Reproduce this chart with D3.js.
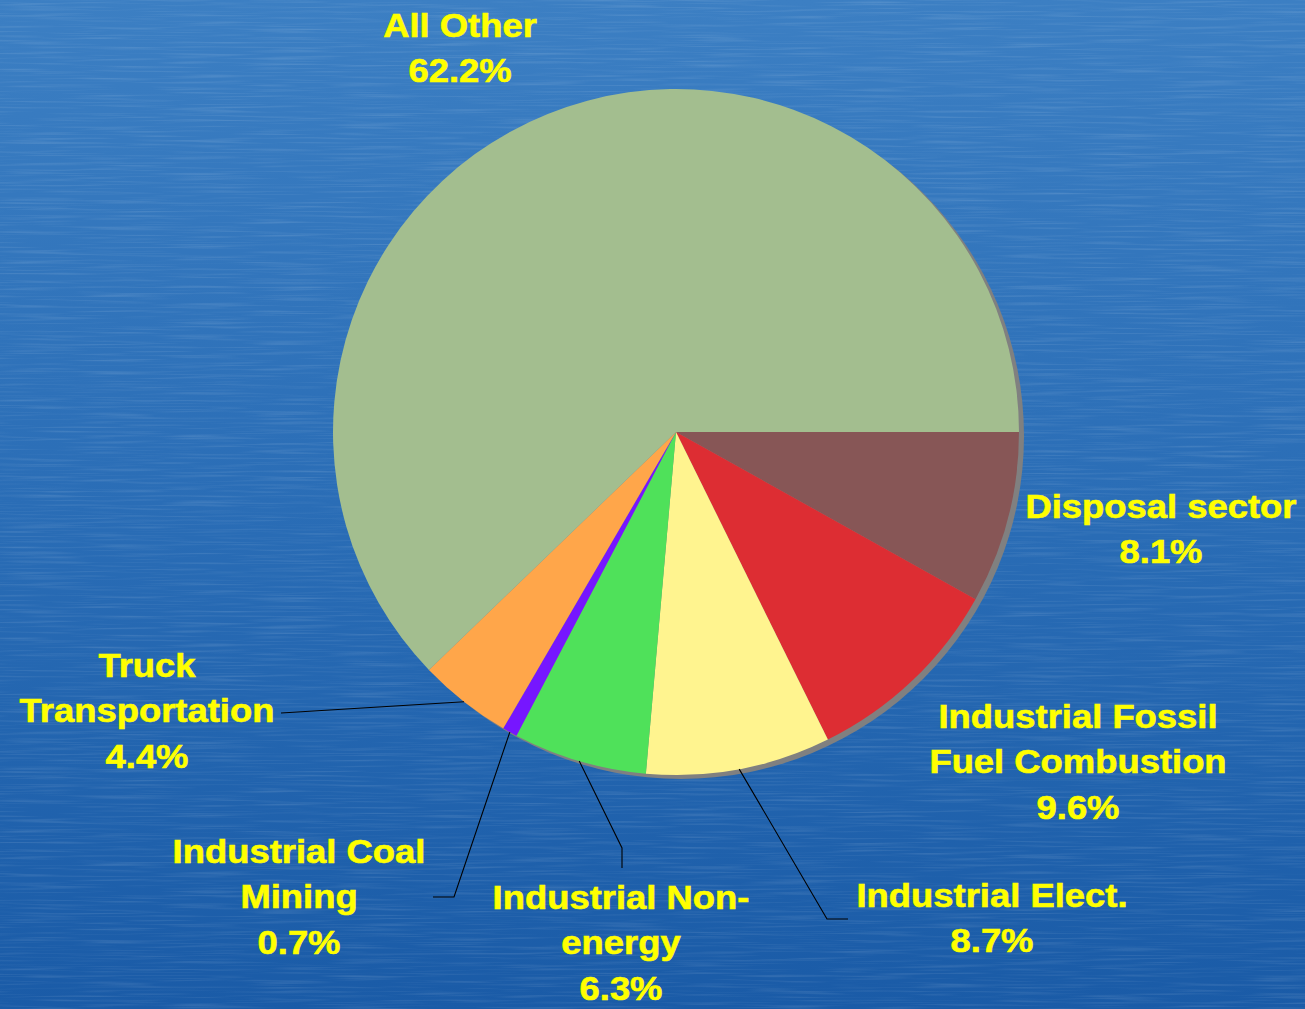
<!DOCTYPE html>
<html>
<head>
<meta charset="utf-8">
<script src="https://cdn.jsdelivr.net/npm/d3@7"></script>
<style>
  html, body { margin: 0; padding: 0; background: #2a6db5; }
  svg { display: block; }
</style>
</head>
<body>
<svg id="chart" width="1305" height="1009"></svg>
<script>
// Share of emissions by source (%)
const categories = [
  "Disposal sector",
  "Industrial Fossil Fuel Combustion",
  "Industrial Elect.",
  "Industrial Non-energy",
  "Industrial Coal Mining",
  "Truck Transportation",
  "All Other"
];
const values = [8.1, 9.6, 8.7, 6.3, 0.7, 4.4, 62.2];
const colors = ["#875656", "#DD2D33", "#FFF48F", "#4FE15A", "#7616FF", "#FFA64A", "#A3BE8F"];

// How each label breaks into lines, where it sits, and its leader path
const labelLayout = {
  "Disposal sector":                   { lines: ["Disposal sector"], x: 1161, y: 518 },
  "Industrial Fossil Fuel Combustion": { lines: ["Industrial Fossil", "Fuel Combustion"], x: 1078, y: 728 },
  "Industrial Elect.":                 { lines: ["Industrial Elect."], x: 992, y: 907, leader: [[827, 919], [848, 919]] },
  "Industrial Non-energy":             { lines: ["Industrial Non-", "energy"], x: 621, y: 909, leader: [[622, 848], [622, 868]] },
  "Industrial Coal Mining":            { lines: ["Industrial Coal", "Mining"], x: 299, y: 863, leader: [[454, 897], [433, 897]] },
  "Truck Transportation":              { lines: ["Truck", "Transportation"], x: 147, y: 677, leader: [[281, 713]] },
  "All Other":                         { lines: ["All Other"], x: 460, y: 37 }
};

const W = 1305, H = 1009;
const cx = 676, cy = 432, R = 343;
const lineGap = 45.5;

const svg = d3.select("#chart");
const defs = svg.append("defs");

// Blue backdrop, lighter at the top
const bg = defs.append("linearGradient").attr("id", "bgGrad")
  .attr("x1", 0).attr("y1", 0).attr("x2", 0).attr("y2", 1);
bg.append("stop").attr("offset", "0%").attr("stop-color", "#3C7FC3");
bg.append("stop").attr("offset", "50%").attr("stop-color", "#2A6DB6");
bg.append("stop").attr("offset", "100%").attr("stop-color", "#1A5BA7");

// Fine horizontal brushed streaks
const streak = defs.append("filter").attr("id", "streaks")
  .attr("x", 0).attr("y", 0).attr("width", "100%").attr("height", "100%");
streak.append("feTurbulence").attr("type", "fractalNoise")
  .attr("baseFrequency", "0.012 0.45").attr("numOctaves", 2).attr("seed", 7).attr("result", "noise");
streak.append("feColorMatrix").attr("in", "noise").attr("type", "matrix")
  .attr("values", "0 0 0 0 1  0 0 0 0 1  0 0 0 0 1  1.8 0 0 0 -0.85");

svg.append("rect").attr("width", W).attr("height", H).attr("fill", "url(#bgGrad)");
svg.append("rect").attr("width", W).attr("height", H)
  .attr("filter", "url(#streaks)").attr("opacity", 0.16);

// Pie, starting at 3 o'clock and running clockwise
const pie = d3.pie().sort(null).value(d => d)
  .startAngle(Math.PI / 2).endAngle(Math.PI / 2 + 2 * Math.PI);
const arcs = pie(values);
const arc = d3.arc().innerRadius(0).outerRadius(R);

const g = svg.append("g").attr("transform", `translate(${cx},${cy})`);

// Drop shadow edge
g.append("circle").attr("cx", 5).attr("cy", 4).attr("r", R).attr("fill", "#808080");

g.selectAll("path.slice").data(arcs).join("path")
  .attr("class", "slice")
  .attr("d", arc)
  .attr("fill", (d, i) => colors[i]);

// Leader lines from the slice mid-angle on the rim
const fmt = d3.format(".1f");
arcs.forEach((d, i) => {
  const lay = labelLayout[categories[i]];
  if (!lay.leader) return;
  const a = (d.startAngle + d.endAngle) / 2;
  const p0 = [cx + R * Math.sin(a), cy - R * Math.cos(a)];
  svg.append("path")
    .attr("d", d3.line()([p0, ...lay.leader]))
    .attr("fill", "none").attr("stroke", "#000").attr("stroke-width", 1.1);
});

// Labels
arcs.forEach((d, i) => {
  const lay = labelLayout[categories[i]];
  const lines = [...lay.lines, fmt(values[i]) + "%"];
  const t = svg.append("text")
    .attr("transform", `translate(${lay.x},${lay.y}) scale(1.12,1)`)
    .attr("text-anchor", "middle")
    .attr("font-family", "'Liberation Sans', Arial, sans-serif")
    .attr("font-weight", "bold")
    .attr("font-size", 32.5)
    .attr("fill", "#FFFF00")
    .attr("stroke", "#FFFF00")
    .attr("stroke-width", 0.6);
  lines.forEach((s, k) => {
    t.append("tspan").attr("x", 0).attr("y", k * lineGap).text(s);
  });
});
</script>
</body>
</html>
